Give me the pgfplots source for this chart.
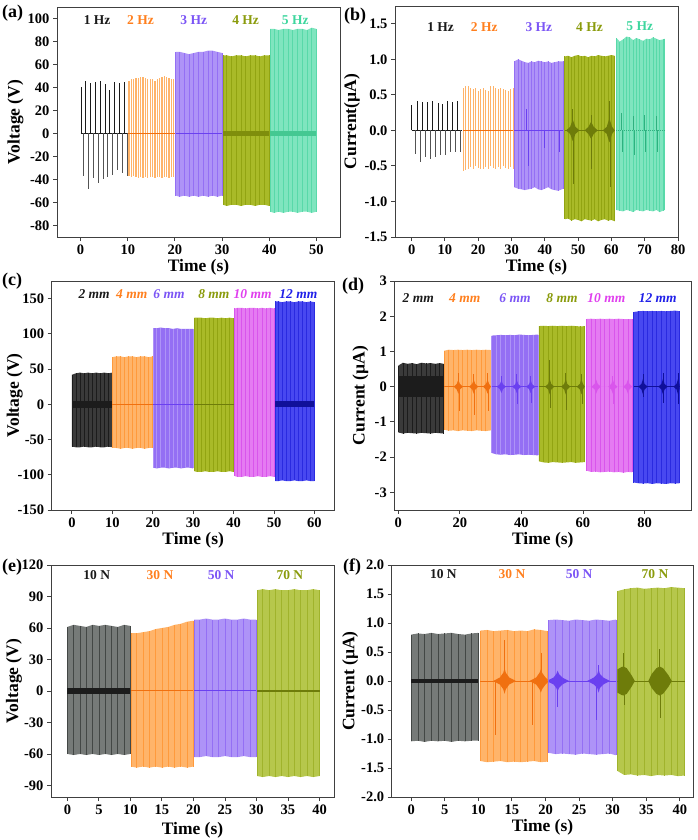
\documentclass[border=0pt]{standalone}
\usepackage{fontspec}
\setmainfont{Liberation Serif}
\usepackage{pgfplots}
\usepackage{pgfplotstable}
\pgfplotsset{compat=1.18}
\usepgfplotslibrary{fillbetween}

\definecolor{bkT}{HTML}{1A1A1A}
\definecolor{orT}{HTML}{FF7F1E}
\definecolor{orF}{HTML}{FFB46A}
\definecolor{orS}{HTML}{FF9A3C}
\definecolor{orD}{HTML}{F07010}
\definecolor{puT}{HTML}{7B55F5}
\definecolor{puF}{HTML}{AE93F7}
\definecolor{puS}{HTML}{946FF4}
\definecolor{puD}{HTML}{6A40F0}
\definecolor{olT}{HTML}{8A9B0C}
\definecolor{olF}{HTML}{A9BA28}
\definecolor{olS}{HTML}{92A412}
\definecolor{olD}{HTML}{6E7C0A}
\definecolor{olM}{HTML}{7F8E0C}
\definecolor{olF2}{HTML}{B6C74C}
\definecolor{olS2}{HTML}{A0B32C}
\definecolor{teT}{HTML}{3ED69E}
\definecolor{teF}{HTML}{7FE5BF}
\definecolor{teS}{HTML}{58D9A9}
\definecolor{teD}{HTML}{2FB07F}
\definecolor{teM}{HTML}{44C892}
\definecolor{maT}{HTML}{E040EE}
\definecolor{maF}{HTML}{E57BF2}
\definecolor{maS}{HTML}{D955EC}
\definecolor{blT}{HTML}{2020E8}
\definecolor{blF}{HTML}{4848F0}
\definecolor{blS}{HTML}{2A2AE0}
\definecolor{blD}{HTML}{10109A}
\definecolor{bkF}{HTML}{3A3A3A}
\definecolor{bkS}{HTML}{1C1C1C}
\definecolor{grF}{HTML}{767A78}
\definecolor{grS}{HTML}{434745}

% ---------- panel (a) ----------
\pgfplotstableread{
x hi lo
10.25 46 -37
10.75 47 -38
11.25 47 -37
11.75 48 -38
12.25 48 -39
12.75 49 -38
13.25 49 -39
13.75 48 -38
14.25 47 -39
14.75 47 -38
15.25 47 -38
15.75 46 -39
16.25 47 -38
16.75 48 -38
17.25 49 -39
17.75 50 -38
18.25 49 -38
18.75 48 -39
19.25 47 -38
19.75 47 -38
}\aTwo
\pgfplotstableread{
x hi lo
20.2 71 -54
21 71 -55
22 70 -54
23 69 -55
24 70 -54
25 71 -55
26 71 -54
27 72 -55
28 72 -54
29 71 -55
30 70 -54
}\aThree
\pgfplotstableread{
x hi lo
30.2 68 -62
31 68 -63
32 67 -62
33 68 -62
34 68 -63
35 67 -62
36 68 -62
37 68 -63
38 67 -62
39 68 -62
40 68 -63
}\aFour
\pgfplotstableread{
x hi lo
40.2 91 -68
41 91 -69
42 90 -68
43 91 -69
44 91 -68
45 90 -68
46 91 -69
47 91 -68
48 90 -68
49 92 -69
50 91 -68
}\aFive
% ---------- panel (b) ----------
\pgfplotstableread{
x hi lo
15.5 0.60 -0.57
16.25 0.63 -0.56
17 0.62 -0.55
17.75 0.60 -0.52
18.5 0.58 -0.55
19.25 0.60 -0.50
20 0.55 -0.53
20.75 0.58 -0.55
21.5 0.60 -0.54
22.25 0.57 -0.52
23 0.55 -0.55
23.75 0.62 -0.50
24.5 0.63 -0.53
25.25 0.60 -0.55
26 0.58 -0.52
26.75 0.60 -0.55
27.5 0.58 -0.50
28.25 0.57 -0.53
29 0.55 -0.55
29.75 0.58 -0.52
30.5 0.60 -0.55
}\bTwo
\pgfplotstableread{
x hi lo
30.8 0.97 -0.80
32 1.00 -0.82
33 0.98 -0.83
34 0.96 -0.84
35 0.95 -0.83
36 0.97 -0.82
37 0.96 -0.80
38 0.98 -0.83
39 0.97 -0.84
40 0.96 -0.82
41 0.97 -0.80
42 0.95 -0.83
43 0.96 -0.84
44 0.97 -0.85
45.6 0.97 -0.82
}\bThree
\pgfplotstableread{
x hi lo
46 1.04 -1.25
47 1.05 -1.24
48 1.03 -1.27
49 1.05 -1.25
50 1.06 -1.26
51 1.04 -1.28
52 1.05 -1.25
53 1.03 -1.26
54 1.05 -1.27
55 1.04 -1.25
56 1.06 -1.28
57 1.05 -1.26
58 1.04 -1.25
59 1.05 -1.27
60 1.06 -1.26
61 1.05 -1.28
}\bFour
\pgfplotstableread{
x hi lo
61.5 1.30 -1.12
62.5 1.25 -1.13
63.5 1.28 -1.14
64.5 1.32 -1.12
65.5 1.31 -1.13
66.5 1.27 -1.15
67.5 1.30 -1.12
68.5 1.28 -1.13
69.5 1.26 -1.14
70.5 1.29 -1.12
71.5 1.28 -1.13
72.5 1.31 -1.14
73.5 1.29 -1.12
74.5 1.27 -1.15
75.5 1.28 -1.13
76 1.29 -1.12
}\bFive
% ---------- panel (c) ----------
\pgfplotstableread{
x hi lo
0 42 -60
1 44 -61
2 45 -61
3 44 -60
4 45 -61
5 44 -61
6 45 -60
7 44 -61
8 45 -61
9 44 -60
10 45 -61
}\cA
\pgfplotstableread{
x hi lo
10 67 -62
11 68 -62
12 68 -63
13 67 -62
14 68 -62
15 68 -63
16 67 -62
17 68 -62
18 68 -63
19 67 -62
20 68 -62
}\cB
\pgfplotstableread{
x hi lo
20.1 108 -90
21 108 -91
22 109 -90
23 108 -90
24 108 -91
25 107 -90
26 108 -90
27 107 -91
28 107 -90
29 107 -90
30 107 -91
}\cC
\pgfplotstableread{
x hi lo
30.3 123 -95
31 123 -96
32 123 -96
33 122 -95
34 123 -96
35 123 -96
36 122 -95
37 123 -96
38 122 -96
39 123 -95
40 122 -96
}\cD
\pgfplotstableread{
x hi lo
40.3 136 -102
41 137 -103
42 137 -103
43 136 -102
44 137 -103
45 137 -103
46 136 -102
47 137 -103
48 136 -103
49 137 -102
50 136 -103
}\cE
\pgfplotstableread{
x hi lo
50.3 146 -109
51 146 -109
52 145 -108
53 146 -109
54 146 -109
55 145 -108
56 146 -109
57 146 -109
58 145 -108
59 146 -109
60 145 -109
}\cF
% ---------- panel (d) ----------
\pgfplotstableread{
x hi lo
0 0.60 -1.30
1.5 0.68 -1.33
3 0.65 -1.31
4.5 0.67 -1.32
6 0.64 -1.33
7.5 0.68 -1.31
9 0.66 -1.32
10.5 0.67 -1.33
12 0.65 -1.31
13.5 0.67 -1.32
14.7 0.65 -1.33
}\dA
\pgfplotstableread{
x hi lo
14.9 1.02 -1.22
16.4 1.05 -1.25
17.9 1.04 -1.24
19.4 1.05 -1.26
20.9 1.04 -1.24
22.4 1.05 -1.25
23.9 1.04 -1.26
25.4 1.05 -1.24
26.9 1.04 -1.25
28.4 1.05 -1.26
30.1 1.04 -1.24
}\dB
\pgfplotstableread{
x hi lo
30.3 1.45 -1.88
31.8 1.46 -1.92
33.3 1.47 -1.93
34.8 1.46 -1.92
36.3 1.47 -1.94
37.8 1.46 -1.93
39.3 1.48 -1.92
40.8 1.47 -1.94
42.3 1.46 -1.93
43.8 1.47 -1.94
45.4 1.48 -1.95
}\dC
\pgfplotstableread{
x hi lo
45.7 1.72 -2.12
47.2 1.73 -2.15
48.7 1.72 -2.16
50.2 1.73 -2.14
51.7 1.72 -2.15
53.2 1.73 -2.16
54.7 1.72 -2.15
56.2 1.73 -2.14
57.7 1.72 -2.16
59.2 1.71 -2.15
60.6 1.72 -2.14
}\dD
\pgfplotstableread{
x hi lo
61.1 1.92 -2.38
62.6 1.93 -2.42
64.1 1.92 -2.41
65.6 1.93 -2.43
67.1 1.92 -2.42
68.6 1.93 -2.41
70.1 1.92 -2.43
71.6 1.93 -2.42
73.1 1.92 -2.44
74.6 1.92 -2.42
76.0 1.92 -2.43
}\dE
\pgfplotstableread{
x hi lo
76.5 2.12 -2.72
78 2.14 -2.74
79.5 2.15 -2.75
81 2.14 -2.74
82.5 2.15 -2.76
84 2.14 -2.74
85.5 2.15 -2.75
87 2.14 -2.76
88.5 2.15 -2.74
90 2.16 -2.75
91.4 2.14 -2.74
}\dF
% ---------- panel (e) ----------
\pgfplotstableread{
x hi lo
0 61 -60
1 63 -61
2 62 -60
3 61 -61
4 63 -60
5 62 -61
6 63 -60
7 62 -61
8 61 -60
9 63 -61
10 62 -60
}\eA
\pgfplotstableread{
x hi lo
10.1 55 -72
11 55 -73
12 56 -72
13 57 -73
14 59 -72
15 60 -73
16 61 -72
17 63 -73
18 64 -72
19 66 -73
20 67 -72
}\eB
\pgfplotstableread{
x hi lo
20.1 68 -63
21 68 -63
22 69 -62
23 68 -63
24 68 -63
25 69 -62
26 68 -63
27 68 -63
28 69 -62
29 68 -63
30 68 -63
}\eC
\pgfplotstableread{
x hi lo
30.1 96 -81
31 97 -82
32 96 -81
33 97 -82
34 96 -81
35 96 -82
36 97 -81
37 96 -82
38 96 -81
39 97 -82
40 96 -81
}\eD
% ---------- panel (f) ----------
\pgfplotstableread{
x hi lo
0 0.80 -1.04
1 0.82 -1.03
2 0.81 -1.05
3 0.83 -1.03
4 0.81 -1.04
5 0.82 -1.03
6 0.83 -1.05
7 0.81 -1.03
8 0.80 -1.04
9 0.82 -1.03
10 0.83 -1.03
}\fA
\pgfplotstableread{
x hi lo
10.3 0.87 -1.38
11.3 0.88 -1.40
12.3 0.86 -1.39
13.3 0.87 -1.38
14.3 0.88 -1.40
15.3 0.86 -1.39
16.3 0.87 -1.40
17.3 0.86 -1.39
18.3 0.89 -1.38
19.3 0.88 -1.40
20.3 0.86 -1.39
}\fB
\pgfplotstableread{
x hi lo
20.5 1.05 -1.24
21.5 1.06 -1.26
22.5 1.05 -1.25
23.5 1.04 -1.26
24.5 1.06 -1.27
25.5 1.05 -1.25
26.5 1.04 -1.26
27.5 1.06 -1.27
28.5 1.05 -1.26
29.5 1.04 -1.25
30.5 1.06 -1.28
}\fC
\pgfplotstableread{
x hi lo
30.7 1.55 -1.55
31.7 1.58 -1.62
32.7 1.60 -1.61
33.7 1.61 -1.63
34.7 1.59 -1.62
35.7 1.60 -1.64
36.7 1.61 -1.62
37.7 1.60 -1.63
38.7 1.62 -1.62
39.7 1.61 -1.64
40.7 1.60 -1.63
}\fD

\pgfplotsset{
  panel/.style={
    scale only axis,
    axis line style={line width=0.9pt, black!75},
    every tick/.style={line width=0.9pt, black!75},
    major tick length=4pt,
    tick align=outside,
    xtick pos=bottom, ytick pos=left,
    tick label style={font=\bfseries\fontsize{14.5}{14.5}\selectfont},
    /pgf/number format/assume math mode=true,
    label style={font=\bfseries\fontsize{17.5}{17.5}\selectfont},
  },
}
\newcommand{\blk}[4]{%
  \addplot[draw=none, name path=#4H] table[x=x,y=hi]{#1};
  \addplot[draw=none, name path=#4L] table[x=x,y=lo]{#1};
  \addplot[fill=#2, draw=none] fill between[of=#4H and #4L];
  \addplot[ycomb, draw=#3, line width=0.8pt] table[x=x,y=hi]{#1};
  \addplot[ycomb, draw=#3, line width=0.8pt] table[x=x,y=lo]{#1};
}
\newcommand{\ann}[4]{\node[font=\bfseries\fontsize{13.5}{13.5}\selectfont, text=#3] at (axis cs:#1,#2) {#4};}
\newcommand{\anni}[4]{\node[font=\bfseries\itshape\fontsize{13.5}{13.5}\selectfont, text=#3] at (axis cs:#1,#2) {#4};}

\begin{document}
\begin{tikzpicture}

% ================= (a) =================
\begin{axis}[panel, at={(57pt,-7pt)}, anchor=north west, width=283pt, height=230pt,
  xmin=-5, xmax=55, ymin=-90, ymax=110,
  xtick={0,10,...,50}, ytick={-80,-60,...,100},
  xlabel={Time (s)}, ylabel={Voltage (V)},
  xlabel style={at={(axis description cs:0.5,-0.13)}, anchor=center},
  ylabel style={at={(axis description cs:-0.147,0.5)}, anchor=center}]
\addplot[bkT, line width=0.8pt] coordinates {(0,0) (10,0)};
\addplot[ycomb, bkT, line width=0.9pt] coordinates {(0.1,40) (1.05,46) (2.1,44) (3.15,45) (4.2,46) (5.25,43) (6.2,38) (7.2,45) (8.3,44) (9.3,45)};
\addplot[ycomb, bkT!75, line width=0.9pt] coordinates {(0.7,-37) (1.75,-48) (2.8,-39) (3.85,-43) (4.8,-40) (5.8,-38) (6.8,-36) (7.85,-32) (8.9,-34) (9.9,-37)};
\addplot[ycomb, orF, line width=1.3pt] table[x=x,y=hi]{\aTwo};
\addplot[ycomb, orF, line width=1.3pt] table[x=x,y=lo]{\aTwo};
\addplot[orD, line width=0.8pt] coordinates {(10,0) (20,0)};
\blk{\aThree}{puF}{puS}{aC}
\addplot[puD, line width=1.1pt] coordinates {(20.2,0) (30,0)};
\blk{\aFour}{olF}{olS}{aD}
\addplot[fill=olM, draw=none] coordinates {(30.2,-2.5) (40,-2.5) (40,2.5) (30.2,2.5)};
\blk{\aFive}{teF}{teS}{aE}
\addplot[fill=teM, draw=none] coordinates {(40.2,-2) (50,-2) (50,2) (40.2,2)};
\ann{3.5}{99}{bkT}{1 Hz}
\ann{12.7}{99}{orT}{2 Hz}
\ann{24}{99}{puT}{3 Hz}
\ann{35}{99}{olT}{4 Hz}
\ann{45.5}{99}{teT}{5 Hz}
\end{axis}

% ================= (b) =================
\begin{axis}[panel, at={(395pt,-6pt)}, anchor=north west, width=283pt, height=231pt,
  xmin=-5, xmax=80, ymin=-1.5, ymax=1.75,
  xtick={0,10,...,80}, ytick={-1.5,-1,...,1.5},
  yticklabel style={/pgf/number format/.cd, fixed, fixed zerofill, precision=1},
  xlabel={Time (s)}, ylabel={Current(µA)},
  xlabel style={at={(axis description cs:0.5,-0.13)}, anchor=center},
  ylabel style={at={(axis description cs:-0.152,0.5)}, anchor=center}]
\addplot[bkT, line width=0.8pt] coordinates {(0,0) (15,0)};
\addplot[ycomb, bkT, line width=0.9pt] coordinates {(0,0.36) (1.7,0.41) (3.2,0.40) (4.7,0.40) (6.2,0.41) (7.9,0.39) (9.2,0.37) (10.9,0.41) (12.4,0.40) (13.9,0.41)};
\addplot[ycomb, bkT!75, line width=0.9pt] coordinates {(1.0,-0.33) (2.5,-0.44) (4.0,-0.38) (5.5,-0.40) (7.2,-0.37) (8.7,-0.35) (10.2,-0.34) (11.7,-0.31) (13.2,-0.30) (14.7,-0.30)};
\addplot[ycomb, orF, line width=1.2pt] table[x=x,y=hi]{\bTwo};
\addplot[ycomb, orF, line width=1.2pt] table[x=x,y=lo]{\bTwo};
\addplot[orD, line width=1pt] coordinates {(15.3,0) (30.5,0)};
\blk{\bThree}{puF}{puS}{bC}
\addplot[puD, line width=1.2pt] coordinates {(30.8,0) (45.6,0)};
\addplot[ycomb, puD, line width=0.8pt] coordinates {(34.6,0.3) (35,-0.5) (40,-0.25) (44.5,-0.3)};
\blk{\bFour}{olF}{olS}{bD}
\addplot[fill=olD, draw=none] coordinates {(46,0) (46.4,0) (47.6,0.05) (48.4,0.15) (49.2,0.05) (50.4,0) (52,0) (53.1,0.05) (53.9,0.12) (54.7,0.05) (55.9,0) (57.4,0) (58.6,0.05) (59.4,0.17) (60.2,0.05) (61,0) (60.2,-0.05) (59.4,-0.17) (58.6,-0.05) (57.4,0) (55.9,0) (54.7,-0.05) (53.9,-0.12) (53.1,-0.05) (52,0) (50.4,0) (49.2,-0.05) (48.4,-0.15) (47.6,-0.05) (46.4,0)};
\addplot[olD, line width=1pt] coordinates {(46,0) (61,0)};
\addplot[ycomb, olD, line width=1pt] coordinates {(48.4,0.30) (48.6,-0.75) (53.9,0.22) (54.1,-0.55) (59.4,0.42) (59.6,-0.8)};
\blk{\bFive}{teF}{teS}{bE}
\addplot[teD, line width=1pt, densely dotted] coordinates {(61.5,0) (76,0)};
\addplot[ycomb, teD, line width=0.8pt] coordinates {(63,0.25) (63.3,-0.3) (66.5,0.2) (66.8,-0.35) (70,0.22) (70.3,-0.3) (73.5,0.2) (73.8,-0.3)};
\ann{8.7}{1.46}{bkT}{1 Hz}
\ann{21.8}{1.46}{orT}{2 Hz}
\ann{38.2}{1.46}{puT}{3 Hz}
\ann{53.4}{1.46}{olT}{4 Hz}
\ann{68.5}{1.46}{teT}{5 Hz}
\end{axis}

% ================= (c) =================
\begin{axis}[panel, at={(51.7pt,-281pt)}, anchor=north west, width=283pt, height=229pt,
  xmin=-5, xmax=65, ymin=-150, ymax=175,
  xtick={0,10,...,60}, ytick={-150,-100,...,150},
  xlabel={Time (s)}, ylabel={Voltage (V)},
  xlabel style={at={(axis description cs:0.5,-0.131)}, anchor=center},
  ylabel style={at={(axis description cs:-0.131,0.5)}, anchor=center}]
\blk{\cA}{bkF}{bkS}{cA}
\addplot[fill=bkS, draw=none] coordinates {(0,-5) (10,-5) (10,4) (0,4)};
\blk{\cB}{orF}{orS}{cB}
\addplot[orD, line width=1pt] coordinates {(10,0) (20,0)};
\blk{\cC}{puS}{puF}{cC}
\addplot[puD, line width=1pt] coordinates {(20.1,0) (30,0)};
\blk{\cD}{olF}{olS}{cD}
\addplot[olD, line width=1.2pt] coordinates {(30.3,0) (40,0)};
\blk{\cE}{maF}{maS}{cE}
\blk{\cF}{blF}{blS}{cF}
\addplot[fill=blD, draw=none] coordinates {(50.3,-4) (60,-4) (60,4) (50.3,4)};
\anni{5.5}{157}{bkT}{2 mm}
\anni{14.8}{157}{orT}{4 mm}
\anni{24}{157}{puT}{6 mm}
\anni{35.1}{157}{olT}{8 mm}
\anni{44.7}{157}{maT}{10 mm}
\anni{56}{157}{blT}{12 mm}
\end{axis}

% ================= (d) =================
\begin{axis}[panel, at={(394.3pt,-281pt)}, anchor=north west, width=297pt, height=229pt,
  xmin=-1.3, xmax=95.2, ymin=-3.5, ymax=3,
  xtick={0,20,...,80}, ytick={-3,-2,...,3},
  xlabel={Time (s)}, ylabel={Current (µA)},
  xlabel style={at={(axis description cs:0.5,-0.131)}, anchor=center},
  ylabel style={at={(axis description cs:-0.114,0.5)}, anchor=center}]
\blk{\dA}{bkF}{bkS}{dA}
\addplot[fill=bkS, draw=none] coordinates {(0,-0.3) (14.7,-0.3) (14.7,0.3) (0,0.3)};
\blk{\dB}{orF}{orS}{dB}
\addplot[fill=orD, draw=none] coordinates {(14.9,0) (18,0) (19,0.08) (19.5,0.2) (20,0.08) (21,0) (23,0) (24,0.08) (24.5,0.2) (25,0.08) (26,0) (27.5,0) (28.5,0.08) (29,0.2) (29.5,0.08) (30.1,0) (29.5,-0.08) (29,-0.2) (28.5,-0.08) (27.5,0) (26,0) (25,-0.08) (24.5,-0.2) (24,-0.08) (23,0) (21,0) (20,-0.08) (19.5,-0.2) (19,-0.08) (18,0)};
\addplot[orD, line width=0.8pt] coordinates {(14.9,0) (30.1,0)};
\addplot[ycomb, orD, line width=0.8pt] coordinates {(19.5,0.4) (19.7,-0.7) (24.5,0.35) (24.7,-0.8) (29,0.4) (29.2,-0.7)};
\blk{\dC}{puS}{puF}{dC}
\addplot[fill=puD, draw=none] coordinates {(30.3,0) (32,0) (33,0.07) (33.5,0.18) (34,0.07) (35,0) (37,0) (38,0.07) (38.5,0.18) (39,0.07) (40,0) (41.5,0) (42.5,0.07) (43,0.18) (43.5,0.07) (44.5,0) (43.5,-0.07) (43,-0.18) (42.5,-0.07) (41.5,0) (40,0) (39,-0.07) (38.5,-0.18) (38,-0.07) (37,0) (35,0) (34,-0.07) (33.5,-0.18) (33,-0.07) (32,0)};
\addplot[puD, line width=0.8pt] coordinates {(30.3,0) (45.4,0)};
\addplot[ycomb, puD, line width=0.8pt] coordinates {(33.5,0.3) (38.5,0.35) (38.7,-0.5) (43,0.3) (43.2,-0.45)};
\blk{\dD}{olF}{olS}{dD}
\addplot[fill=olD, draw=none] coordinates {(45.7,0) (47.7,0) (48.7,0.08) (49.2,0.22) (49.7,0.08) (50.7,0) (52.9,0) (53.9,0.08) (54.4,0.22) (54.9,0.08) (55.9,0) (58,0) (59,0.08) (59.5,0.22) (60,0.08) (60.6,0) (60,-0.08) (59.5,-0.22) (59,-0.08) (58,0) (55.9,0) (54.9,-0.08) (54.4,-0.22) (53.9,-0.08) (52.9,0) (50.7,0) (49.7,-0.08) (49.2,-0.22) (48.7,-0.08) (47.7,0)};
\addplot[olD, line width=0.8pt] coordinates {(45.7,0) (60.6,0)};
\addplot[ycomb, olD, line width=0.8pt] coordinates {(49.2,0.75) (49.4,-0.6) (54.4,0.4) (54.6,-0.65) (59.5,0.35) (59.7,-0.5)};
\blk{\dE}{maF}{maS}{dE}
\addplot[fill=maS, draw=none] coordinates {(61.1,0) (62.8,0) (63.8,0.08) (64.3,0.2) (64.8,0.08) (65.8,0) (68.2,0) (69.2,0.08) (69.7,0.2) (70.2,0.08) (71.2,0) (73.1,0) (74.1,0.08) (74.6,0.2) (75.1,0.08) (76,0) (75.1,-0.08) (74.6,-0.2) (74.1,-0.08) (73.1,0) (71.2,0) (70.2,-0.08) (69.7,-0.2) (69.2,-0.08) (68.2,0) (65.8,0) (64.8,-0.08) (64.3,-0.2) (63.8,-0.08) (62.8,0)};
\addplot[ycomb, maS, line width=0.8pt] coordinates {(69.7,0.3) (69.9,-0.5) (74.6,0.3)};
\blk{\dF}{blF}{blS}{dF}
\addplot[fill=blD, draw=none] coordinates {(76.5,0) (78,0) (79,0.08) (79.5,0.22) (80,0.08) (81,0) (84.5,0) (85.5,0.08) (86,0.22) (86.5,0.08) (87.5,0) (89.4,0) (90.4,0.08) (90.9,0.22) (91.4,0.05) (91.4,-0.05) (90.9,-0.22) (90.4,-0.08) (89.4,0) (87.5,0) (86.5,-0.08) (86,-0.22) (85.5,-0.08) (84.5,0) (81,0) (80,-0.08) (79.5,-0.22) (79,-0.08) (78,0)};
\addplot[blD, line width=0.8pt] coordinates {(76.5,0) (91.4,0)};
\addplot[ycomb, blD, line width=0.8pt] coordinates {(79.5,0.35) (79.7,-0.3) (86,0.4) (86.2,-0.45) (90.9,0.4) (91.1,-0.5)};
\anni{6.5}{2.51}{bkT}{2 mm}
\anni{21.6}{2.51}{orT}{4 mm}
\anni{37.9}{2.51}{puT}{6 mm}
\anni{53.2}{2.51}{olT}{8 mm}
\anni{67.6}{2.51}{maT}{10 mm}
\anni{84.3}{2.51}{blT}{12 mm}
\end{axis}

% ================= (e) =================
\begin{axis}[panel, at={(51pt,-565pt)}, anchor=north west, width=283pt, height=232pt,
  xmin=-2.6, xmax=42.3, ymin=-101, ymax=120,
  xtick={0,5,...,40}, ytick={-90,-60,...,120},
  xlabel={Time (s)}, ylabel={Voltage (V)},
  xlabel style={at={(axis description cs:0.5,-0.144)}, anchor=center},
  ylabel style={at={(axis description cs:-0.131,0.5)}, anchor=center}]
\blk{\eA}{grF}{grS}{eA}
\addplot[fill=bkS, draw=none] coordinates {(0,-3) (10,-3) (10,3) (0,3)};
\blk{\eB}{orF}{orS}{eB}
\addplot[orD, line width=1pt] coordinates {(10.1,0) (20,0)};
\blk{\eC}{puF}{puS}{eC}
\addplot[puD, line width=1pt] coordinates {(20.1,0) (30,0)};
\blk{\eD}{olF2}{olS2}{eD}
\addplot[olD, line width=1.2pt] coordinates {(30.1,0) (40,0)};
\ann{4.65}{110.5}{bkT}{10 N}
\ann{14.7}{110.5}{orT}{30 N}
\ann{24.4}{110.5}{puT}{50 N}
\ann{35.3}{110.5}{olT}{70 N}
\end{axis}

% ================= (f) =================
\begin{axis}[panel, at={(391.7pt,-565pt)}, anchor=north west, width=301.6pt, height=232pt,
  xmin=-2.9, xmax=42, ymin=-2, ymax=2,
  xtick={0,5,...,40}, ytick={-2,-1.5,...,2},
  yticklabel style={/pgf/number format/.cd, fixed, fixed zerofill, precision=1},
  xlabel={Time (s)}, ylabel={Current (µA)},
  xlabel style={at={(axis description cs:0.5,-0.131)}, anchor=center},
  ylabel style={at={(axis description cs:-0.138,0.5)}, anchor=center}]
\blk{\fA}{grF}{grS}{fA}
\addplot[fill=bkS, draw=none] coordinates {(0,-0.04) (10,-0.04) (10,0.03) (0,0.03)};
\blk{\fB}{orF}{orS}{fB}
\addplot[orD, line width=1pt] coordinates {(10.3,0) (20.3,0)};
\addplot[fill=orD, draw=none] coordinates {(12.2,0) (13.2,0.06) (13.7,0.14) (13.9,0.22) (14.1,0.14) (14.6,0.06) (15.6,0) (14.6,-0.06) (14.1,-0.14) (13.9,-0.22) (13.7,-0.14) (13.2,-0.06)};
\addplot[fill=orD, draw=none] coordinates {(17.6,0) (18.6,0.06) (19.1,0.14) (19.3,0.2) (19.5,0.14) (20,0.06) (20.3,0.03) (20.3,-0.03) (20,-0.06) (19.5,-0.14) (19.3,-0.2) (19.1,-0.14) (18.6,-0.06)};
\addplot[ycomb, orD, line width=1pt] coordinates {(13.9,0.71) (12.6,-0.93) (19.4,0.48) (18.1,-0.76)};
\blk{\fC}{puF}{puS}{fC}
\addplot[puD, line width=1pt] coordinates {(20.5,0) (30.5,0)};
\addplot[fill=puD, draw=none] coordinates {(20.5,0.02) (21.2,0.06) (21.6,0.12) (21.8,0.18) (22.0,0.12) (22.5,0.06) (23.5,0) (22.5,-0.06) (22.0,-0.12) (21.8,-0.18) (21.6,-0.12) (21.2,-0.06) (20.5,-0.02)};
\addplot[fill=puD, draw=none] coordinates {(26.2,0) (27.2,0.06) (27.7,0.12) (27.9,0.2) (28.1,0.12) (28.6,0.06) (29.6,0) (28.6,-0.06) (28.1,-0.12) (27.9,-0.2) (27.7,-0.12) (27.2,-0.06)};
\addplot[ycomb, puD, line width=1pt] coordinates {(21.8,-0.44) (27.9,0.28) (27.6,-0.67)};
\blk{\fD}{olF2}{olS2}{fD}
\addplot[olD, line width=1pt] coordinates {(30.7,0) (40.7,0)};
\addplot[fill=olD, draw=none] coordinates {(30.7,-0.2) (30.7,0.2) (31.3,0.24) (31.6,0.25) (32.1,0.22) (32.8,0.1) (33.3,0) (32.8,-0.1) (32.1,-0.22) (31.6,-0.25) (31.3,-0.24)};
\addplot[fill=olD, draw=none] coordinates {(35.3,0) (35.8,0.12) (36.5,0.22) (37.0,0.25) (37.5,0.22) (38.3,0.1) (38.8,0) (38.3,-0.1) (37.5,-0.22) (37.0,-0.25) (36.5,-0.22) (35.8,-0.12)};
\addplot[ycomb, olD, line width=1pt] coordinates {(31.6,0.48) (31.7,-0.41) (37.0,0.56) (37.1,-0.64)};
\ann{4.8}{1.84}{bkT}{10 N}
\ann{15}{1.84}{orT}{30 N}
\ann{25}{1.84}{puT}{50 N}
\ann{36.3}{1.84}{olT}{70 N}
\end{axis}

% panel letters
\node[anchor=base west, font=\bfseries\fontsize{18}{18}\selectfont, inner sep=0pt] at (2pt,-17.5pt) {(a)};
\node[anchor=base west, font=\bfseries\fontsize{18}{18}\selectfont, inner sep=0pt] at (344pt,-20.5pt) {(b)};
\node[anchor=base west, font=\bfseries\fontsize{18}{18}\selectfont, inner sep=0pt] at (2pt,-285.5pt) {(c)};
\node[anchor=base west, font=\bfseries\fontsize{18}{18}\selectfont, inner sep=0pt] at (342pt,-290.5pt) {(d)};
\node[anchor=base west, font=\bfseries\fontsize{18}{18}\selectfont, inner sep=0pt] at (2pt,-571.5pt) {(e)};
\node[anchor=base west, font=\bfseries\fontsize{18}{18}\selectfont, inner sep=0pt] at (343pt,-571.5pt) {(f)};
\pgfresetboundingbox
\path[use as bounding box] (0,0) rectangle (697pt,-840pt);
\end{tikzpicture}
\end{document}
